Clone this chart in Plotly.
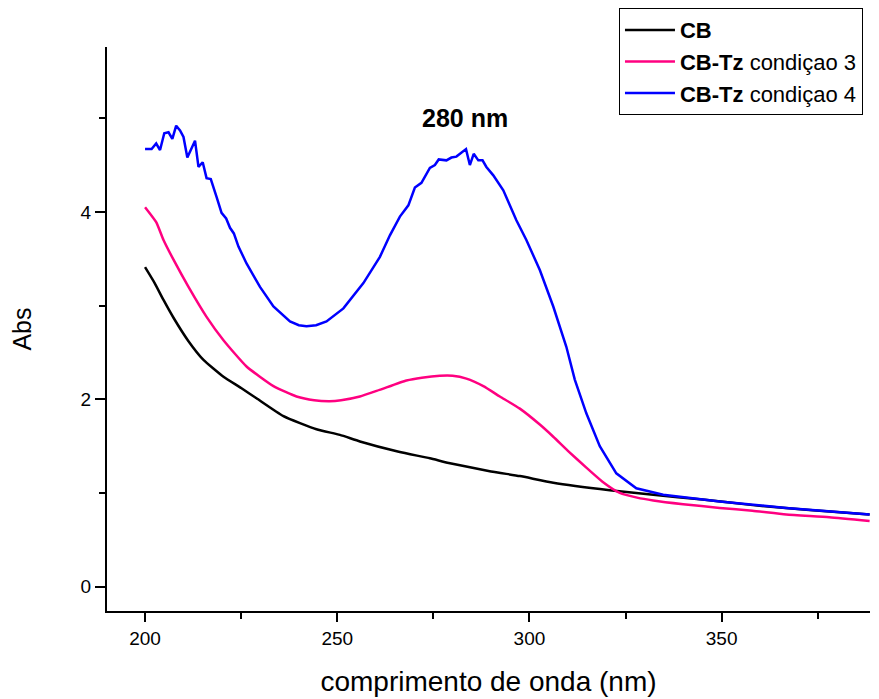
import plotly.graph_objects as go

# CB (black)
cb_x = [200, 202.5, 204.8, 207.4, 211.3, 215.2, 220.4, 225, 229, 236, 244.6, 250.7, 255.9, 266, 274.1,
        279, 290, 297.5, 306.2, 320.9, 332.2, 345, 358.1, 372, 388.5]
cb_y = [3.41, 3.24, 3.06, 2.87, 2.62, 2.42, 2.24, 2.12, 2.01, 1.82, 1.68, 1.62, 1.55, 1.44, 1.37,
        1.32, 1.23, 1.18, 1.11, 1.03, 0.98, 0.93, 0.87, 0.82, 0.77]

# CB-Tz condiçao 3 (pink)
c3_x = [200, 202.9, 204.8, 207.4, 211.3, 216, 220.4, 226.4, 233.4, 239.4, 244, 248, 251, 255.9, 261,
        268, 272, 276.7, 280, 283.6, 288, 292.3, 297.5, 302.7, 306.2, 310, 314.8, 319, 323.5, 328,
        332.2, 340, 349.5, 358, 366.8, 378, 388.5]
c3_y = [4.05, 3.89, 3.70, 3.49, 3.20, 2.88, 2.63, 2.35, 2.14, 2.03, 1.99, 1.98, 1.99, 2.03, 2.10,
        2.20, 2.23, 2.25, 2.25, 2.22, 2.14, 2.03, 1.90, 1.73, 1.60, 1.45, 1.27, 1.12, 1.00, 0.95,
        0.92, 0.88, 0.84, 0.81, 0.77, 0.74, 0.70]

# CB-Tz condiçao 4 (blue)
c4_x = [200, 201.7, 202.9, 203.9, 205.0, 206.1, 207.1, 208.1, 209.1, 210.0, 211.0, 213.0, 213.9, 215.0,
        216.0, 217.1, 218.6, 219.9, 221.1, 222.1, 223.1, 224.3, 226.4, 229.9, 233.4, 237.7, 240.0,
        242.0, 244.5, 247.2, 251.6, 256.8, 261.1, 263.7, 266.3, 268.5, 270.2, 271.9, 274.1, 275.4,
        276.4, 278.4, 279.7, 281.0, 283.5, 284.5, 285.5, 286.7, 287.8, 288.8, 290.6, 293.2, 294.9,
        296.6, 299.2, 302.7, 306.2, 309.6, 311.8, 314.8, 318.3, 322.6, 327.8, 334.8, 349.5, 366.8,
        388.5]
c4_y = [4.67, 4.67, 4.73, 4.66, 4.84, 4.85, 4.78, 4.92, 4.87, 4.80, 4.58, 4.76, 4.48, 4.53,
        4.36, 4.35, 4.16, 3.99, 3.93, 3.83, 3.77, 3.63, 3.45, 3.20, 2.99, 2.83, 2.79,
        2.78, 2.79, 2.83, 2.97, 3.24, 3.52, 3.75, 3.95, 4.07, 4.26, 4.31, 4.47, 4.50,
        4.56, 4.55, 4.58, 4.59, 4.67, 4.50, 4.62, 4.55, 4.55, 4.48, 4.39, 4.23, 4.07,
        3.91, 3.70, 3.38, 2.99, 2.56, 2.21, 1.85, 1.50, 1.21, 1.05, 0.98, 0.91, 0.84,
        0.77]

x_ticks = [200, 250, 300, 350]
y_ticks = [0, 2, 4]

FONT = "Liberation Sans, Arial, sans-serif"

fig = go.Figure()
fig.add_trace(go.Scatter(x=cb_x, y=cb_y, mode="lines", name="<b>CB</b>",
                         line=dict(color="#000000", width=2.5, shape="spline", smoothing=0.5)))
fig.add_trace(go.Scatter(x=c3_x, y=c3_y, mode="lines", name="<b>CB-Tz</b> condiçao 3",
                         line=dict(color="#FF0080", width=2.5, shape="spline", smoothing=0.5)))
fig.add_trace(go.Scatter(x=c4_x, y=c4_y, mode="lines", name="<b>CB-Tz</b> condiçao 4",
                         line=dict(color="#0000FF", width=2.5)))

fig.add_annotation(x=283.2, y=5.0, text="<b>280 nm</b>", showarrow=False,
                   font=dict(size=25, color="black", family=FONT))

fig.update_layout(
    width=879, height=699,
    margin=dict(l=99, r=17, t=39, b=96, autoexpand=False),
    paper_bgcolor="white", plot_bgcolor="white",
    font=dict(family=FONT, color="black"),
    showlegend=True,
    legend=dict(x=0.671, y=1.069, xanchor="left", yanchor="top",
                bordercolor="black", borderwidth=1, bgcolor="white",
                itemwidth=50,
                font=dict(size=22, family=FONT), tracegroupgap=0),
    xaxis=dict(range=[190.1, 388.6], showgrid=False, zeroline=False,
               showline=True, linecolor="black", linewidth=2,
               tickvals=x_ticks, ticks="outside", ticklen=9, tickwidth=2, tickcolor="black",
               tickfont=dict(size=19, family=FONT),
               minor=dict(tickvals=[225, 275, 325, 375], ticks="outside", ticklen=6,
                          tickwidth=2, tickcolor="black"),
               title=dict(text="comprimento de onda (nm)", font=dict(size=28, family=FONT), standoff=24)),
    yaxis=dict(range=[-0.26, 5.76], showgrid=False, zeroline=False,
               showline=True, linecolor="black", linewidth=2,
               tickvals=y_ticks, ticks="outside", ticklen=10, tickwidth=2, tickcolor="black",
               tickfont=dict(size=19, family=FONT),
               minor=dict(tickvals=[1, 3, 5], ticks="outside", ticklen=6,
                          tickwidth=2, tickcolor="black"),
               title=dict(text="Abs", font=dict(size=25, family=FONT), standoff=42)),
)

fig.write_html("out.html")
